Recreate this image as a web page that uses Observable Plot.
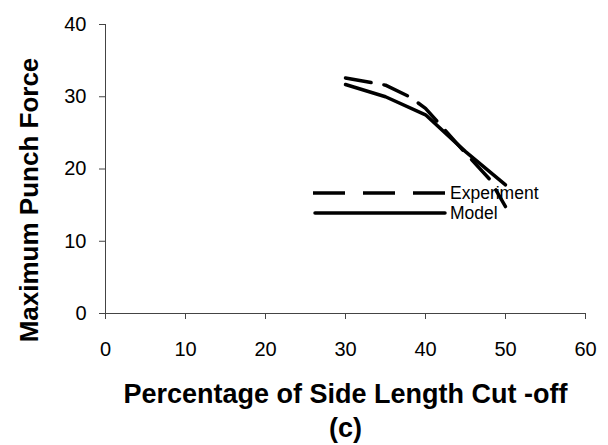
<!DOCTYPE html>
<html>
<head>
<meta charset="utf-8">
<script src="https://cdn.jsdelivr.net/npm/d3@7"></script>
<script src="https://cdn.jsdelivr.net/npm/@observablehq/plot@0.6"></script>
<style>
  html, body { margin: 0; padding: 0; background: #fff; }
  #wrap { position: relative; width: 608px; height: 445px; font-family: "Liberation Sans", Arial, sans-serif; }
  #legend { position: absolute; left: 0; top: 0; pointer-events: none; }
</style>
</head>
<body>
<div id="wrap"></div>
<script>
// Punch force versus percentage of side length cut off
const modelPct = [30, 35, 40, 45, 50];
const modelForce = [31.7, 30.0, 27.5, 22.4, 17.8];
const experimentPct = [30, 35, 38, 40, 45, 48, 50];
const experimentForce = [32.6, 31.6, 30.0, 28.4, 22.2, 18.6, 14.8];
const xTicks = [0, 10, 20, 30, 40, 50, 60];
const yTicks = [0, 10, 20, 30, 40];
const seriesNames = ["Experiment", "Model"];
const xTitle = "Percentage of Side Length Cut -off";
const yTitle = "Maximum Punch Force";
const panelTag = "(c)";

const model = modelPct.map((x, i) => ({x, y: modelForce[i]}));
const experiment = experimentPct.map((x, i) => ({x, y: experimentForce[i]}));

const font = '"Liberation Sans", Arial, sans-serif';

const chart = Plot.plot({
  width: 608,
  height: 445,
  marginLeft: 105,
  marginRight: 23,
  marginTop: 24,
  marginBottom: 132,
  style: {fontFamily: font, fontSize: "20px", color: "#000", background: "#fff"},
  x: {domain: [0, 60]},
  y: {domain: [0, 40]},
  marks: [
    Plot.axisY({ticks: yTicks, tickSize: 6, tickPadding: 13, label: null, fontSize: 20, stroke: "#444"}),
    Plot.axisX({ticks: xTicks, tickSize: 6, tickPadding: 22, label: null, fontSize: 20, stroke: "#444"}),
    Plot.ruleX([0], {stroke: "#444", strokeWidth: 1}),
    Plot.ruleY([0], {stroke: "#444", strokeWidth: 1}),
    Plot.line(experiment, {x: "x", y: "y", stroke: "#000", strokeWidth: 3.5, strokeDasharray: "26,13", strokeLinejoin: "round"}),
    Plot.line(model, {x: "x", y: "y", stroke: "#000", strokeWidth: 3.5, strokeLinecap: "round", strokeLinejoin: "round"}),
    Plot.text([yTitle], {frameAnchor: "left", dx: -68, dy: 31, rotate: -90, textAnchor: "middle", lineAnchor: "bottom", fontSize: 26, fontWeight: "bold", fill: "#000"}),
    Plot.text([xTitle], {frameAnchor: "bottom", dy: 89, lineAnchor: "bottom", fontSize: 27, fontWeight: "bold", fill: "#000"}),
    Plot.text([panelTag], {frameAnchor: "bottom", dy: 123, lineAnchor: "bottom", fontSize: 27, fontWeight: "bold", fill: "#000"})
  ]
});

const wrap = document.getElementById("wrap");
wrap.appendChild(chart);

// Legend drawn on top of the plot area
const ns = "http://www.w3.org/2000/svg";
const leg = document.createElementNS(ns, "svg");
leg.setAttribute("id", "legend");
leg.setAttribute("width", 608);
leg.setAttribute("height", 445);
const rows = [
  {name: seriesNames[0], y: 193, dash: "32,18", cap: "butt"},
  {name: seriesNames[1], y: 213, dash: null, cap: "round"}
];
for (const r of rows) {
  const ln = document.createElementNS(ns, "line");
  ln.setAttribute("x1", r.cap === "round" ? 315 : 313);
  ln.setAttribute("x2", 445);
  ln.setAttribute("y1", r.y);
  ln.setAttribute("y2", r.y);
  ln.setAttribute("stroke", "#000");
  ln.setAttribute("stroke-width", 3.5);
  ln.setAttribute("stroke-linecap", r.cap);
  if (r.dash) ln.setAttribute("stroke-dasharray", r.dash);
  leg.appendChild(ln);
  const t = document.createElementNS(ns, "text");
  t.setAttribute("x", 450);
  t.setAttribute("y", r.y);
  t.setAttribute("dy", "0.35em");
  t.setAttribute("font-family", font);
  t.setAttribute("font-size", 17.5);
  t.textContent = r.name;
  leg.appendChild(t);
}
wrap.appendChild(leg);
</script>
</body>
</html>
